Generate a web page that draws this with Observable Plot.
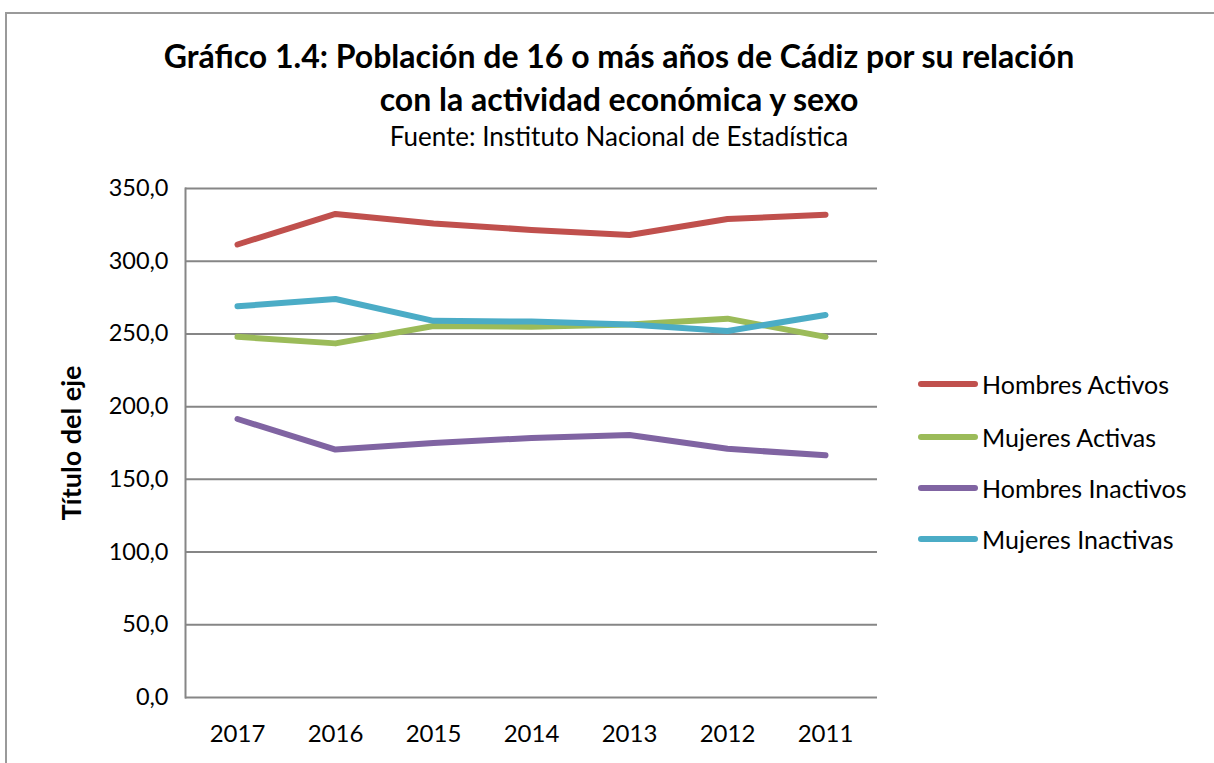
<!DOCTYPE html>
<html>
<head>
<meta charset="utf-8">
<script src="https://cdn.jsdelivr.net/npm/d3@7"></script>
<script src="https://cdn.jsdelivr.net/npm/@observablehq/plot@0.6"></script>
<style>
  html, body { margin: 0; padding: 0; background: #fff; }
  #root { position: relative; width: 1214px; height: 763px; overflow: hidden; font-family: Lato, "Open Sans", sans-serif; color: #000; }
  #frame { position: absolute; left: 5px; top: 12px; width: 1300px; height: 800px; border-left: 2px solid #9a9a9a; border-top: 2px solid #9a9a9a; }
  .title { position: absolute; left: 0; width: 1238px; text-align: center; font-weight: bold; font-size: 32px; line-height: 40px; }
  .sub { position: absolute; left: 0; width: 1238px; text-align: center; font-size: 26px; line-height: 32px; }
  #chart { position: absolute; left: 0; top: 160px; }
  #ylab { position: absolute; left: 70px; top: 443px; transform: translate(-50%, -50%) rotate(-90deg); font-weight: bold; font-size: 27px; white-space: nowrap; }
  .leg { position: absolute; left: 918px; font-size: 25px; line-height: 30px; display: flex; align-items: center; white-space: nowrap; }
  .leg span.sw { display: inline-block; width: 60px; height: 6px; border-radius: 3px; margin-right: 4px; }
</style>
</head>
<body>
<div id="root">
  <div id="frame"></div>
  <div class="title" style="top:36px">Gráfico 1.4: Población de 16 o más años de Cádiz por su relación</div>
  <div class="title" style="top:79px">con la actividad económica y sexo</div>
  <div class="sub" style="top:120px">Fuente: Instituto Nacional de Estadística</div>
  <div id="chart"></div>
  <div id="ylab">Título del eje</div>
  <div id="legend"></div>
</div>
<script>
const years = ["2017", "2016", "2015", "2014", "2013", "2012", "2011"];
const seriesNames = ["Hombres Activos", "Mujeres Activas", "Hombres Inactivos", "Mujeres Inactivas"];
const seriesColors = ["#C0504D", "#9BBB59", "#8064A2", "#4BACC6"];
const hombresActivos = [311.5, 332.5, 326, 321.5, 318, 329, 332];
const mujeresActivas = [248, 243.5, 255.5, 255, 256.5, 260.5, 248];
const hombresInactivos = [191.5, 170.5, 175, 178.5, 180.5, 171, 166.5];
const mujeresInactivas = [269, 274, 259, 258.5, 256.5, 252, 263];
const yTicks = [0, 50, 100, 150, 200, 250, 300, 350];

const seriesValues = [hombresActivos, mujeresActivas, hombresInactivos, mujeresInactivas];
const data = [];
seriesNames.forEach((s, i) => years.forEach((y, j) => data.push({series: s, year: y, value: seriesValues[i][j]})));

const fmt = d => d.toFixed(1).replace(".", ",");

const plot = Plot.plot({
  width: 900,
  height: 597,
  marginLeft: 185,
  marginRight: 23,
  marginTop: 28,
  marginBottom: 60,
  style: {fontFamily: "Lato, 'Open Sans', sans-serif", fontSize: "24px", color: "#000", background: "transparent", overflow: "visible"},
  x: {type: "point", domain: years, padding: 0.5, label: null},
  y: {domain: [0, 350], label: null},
  color: {domain: seriesNames, range: seriesColors},
  marks: [
    Plot.ruleY(yTicks, {stroke: "#868686", strokeWidth: 2}),
    Plot.frame({anchor: "left", stroke: "#868686", strokeWidth: 2}),
    Plot.axisY(yTicks, {tickSize: 0, tickPadding: 17, tickFormat: fmt, label: null, fontSize: 23.5}),
    Plot.axisX({tickSize: 0, tickPadding: 27, label: null, fontSize: 24}),
    Plot.line(data, {x: "year", y: "value", z: "series", stroke: "series", strokeWidth: 6, strokeLinecap: "round", strokeLinejoin: "round"})
  ]
});
document.getElementById("chart").appendChild(plot);

const legend = document.getElementById("legend");
const legTops = [384, 437, 488, 539];
seriesNames.forEach((s, i) => {
  const d = document.createElement("div");
  d.className = "leg";
  d.style.top = (legTops[i] - 15) + "px";
  d.innerHTML = `<span class="sw" style="background:${seriesColors[i]}"></span><span>${s}</span>`;
  legend.appendChild(d);
});
</script>
</body>
</html>
